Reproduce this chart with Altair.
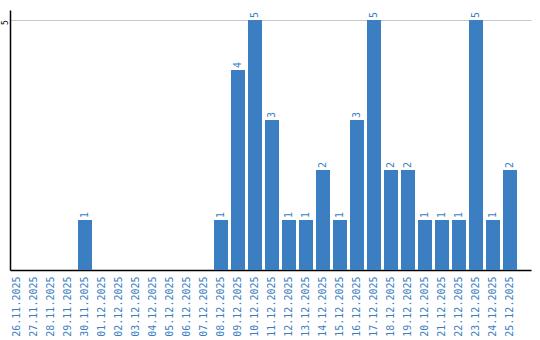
import altair as alt
import pandas as pd

dates = ["26.11.2025", "27.11.2025", "28.11.2025", "29.11.2025", "30.11.2025",
         "01.12.2025", "02.12.2025", "03.12.2025", "04.12.2025", "05.12.2025",
         "06.12.2025", "07.12.2025", "08.12.2025", "09.12.2025", "10.12.2025",
         "11.12.2025", "12.12.2025", "13.12.2025", "14.12.2025", "15.12.2025",
         "16.12.2025", "17.12.2025", "18.12.2025", "19.12.2025", "20.12.2025",
         "21.12.2025", "22.12.2025", "23.12.2025", "24.12.2025", "25.12.2025"]
counts = [0, 0, 0, 0, 1,
          0, 0, 0, 0, 0,
          0, 0, 1, 4, 5,
          3, 1, 1, 2, 1,
          3, 5, 2, 2, 1,
          1, 1, 5, 1, 2]

df = pd.DataFrame({"date": dates, "count": counts})

BLUE = "#3b7ec2"
FONT = "DejaVu Sans Mono"

xscale = alt.Scale(domain=dates, paddingInner=0.176, paddingOuter=0.4115, align=0)
yscale = alt.Scale(domain=[0, 5.2], nice=False)

x = alt.X("date:N", sort=dates, scale=xscale,
          axis=alt.Axis(title=None, labelAngle=270, labelAlign="right", labelBaseline="middle",
                        labelColor=BLUE, labelFont=FONT, labelFontSize=10, labelPadding=6,
                        ticks=False, domainColor="#000", domainWidth=1.5, grid=False))
y = alt.Y("count:Q", scale=yscale,
          axis=alt.Axis(title=None, values=[5], labelAngle=270, labelAlign="center",
                        labelBaseline="bottom", labelFont=FONT, labelFontSize=8, labelColor="#000",
                        labelPadding=1, labelOffset=2, ticks=False, domainColor="#000", domainWidth=1.5,
                        grid=True, gridColor="#c8c8c8", gridWidth=1.2))

bars = alt.Chart(df).mark_bar(color=BLUE).encode(x=x, y=y)

labels = alt.Chart(df).transform_filter("datum.count > 0").mark_text(
    angle=270, align="left", baseline="middle", dx=2, color=BLUE, font=FONT, fontSize=10
).encode(x=alt.X("date:N", sort=dates, scale=xscale), y=alt.Y("count:Q", scale=yscale),
         text="count:Q")

chart = (bars + labels).properties(
    width=521, height=260,
    autosize=alt.AutoSizeParams(type="none"),
    padding={"left": 10, "top": 10, "right": 9, "bottom": 70},
).configure(background="white").configure_view(stroke=None, strokeWidth=0)

chart.save("out.html", embed_options={"renderer": "svg", "actions": False})
